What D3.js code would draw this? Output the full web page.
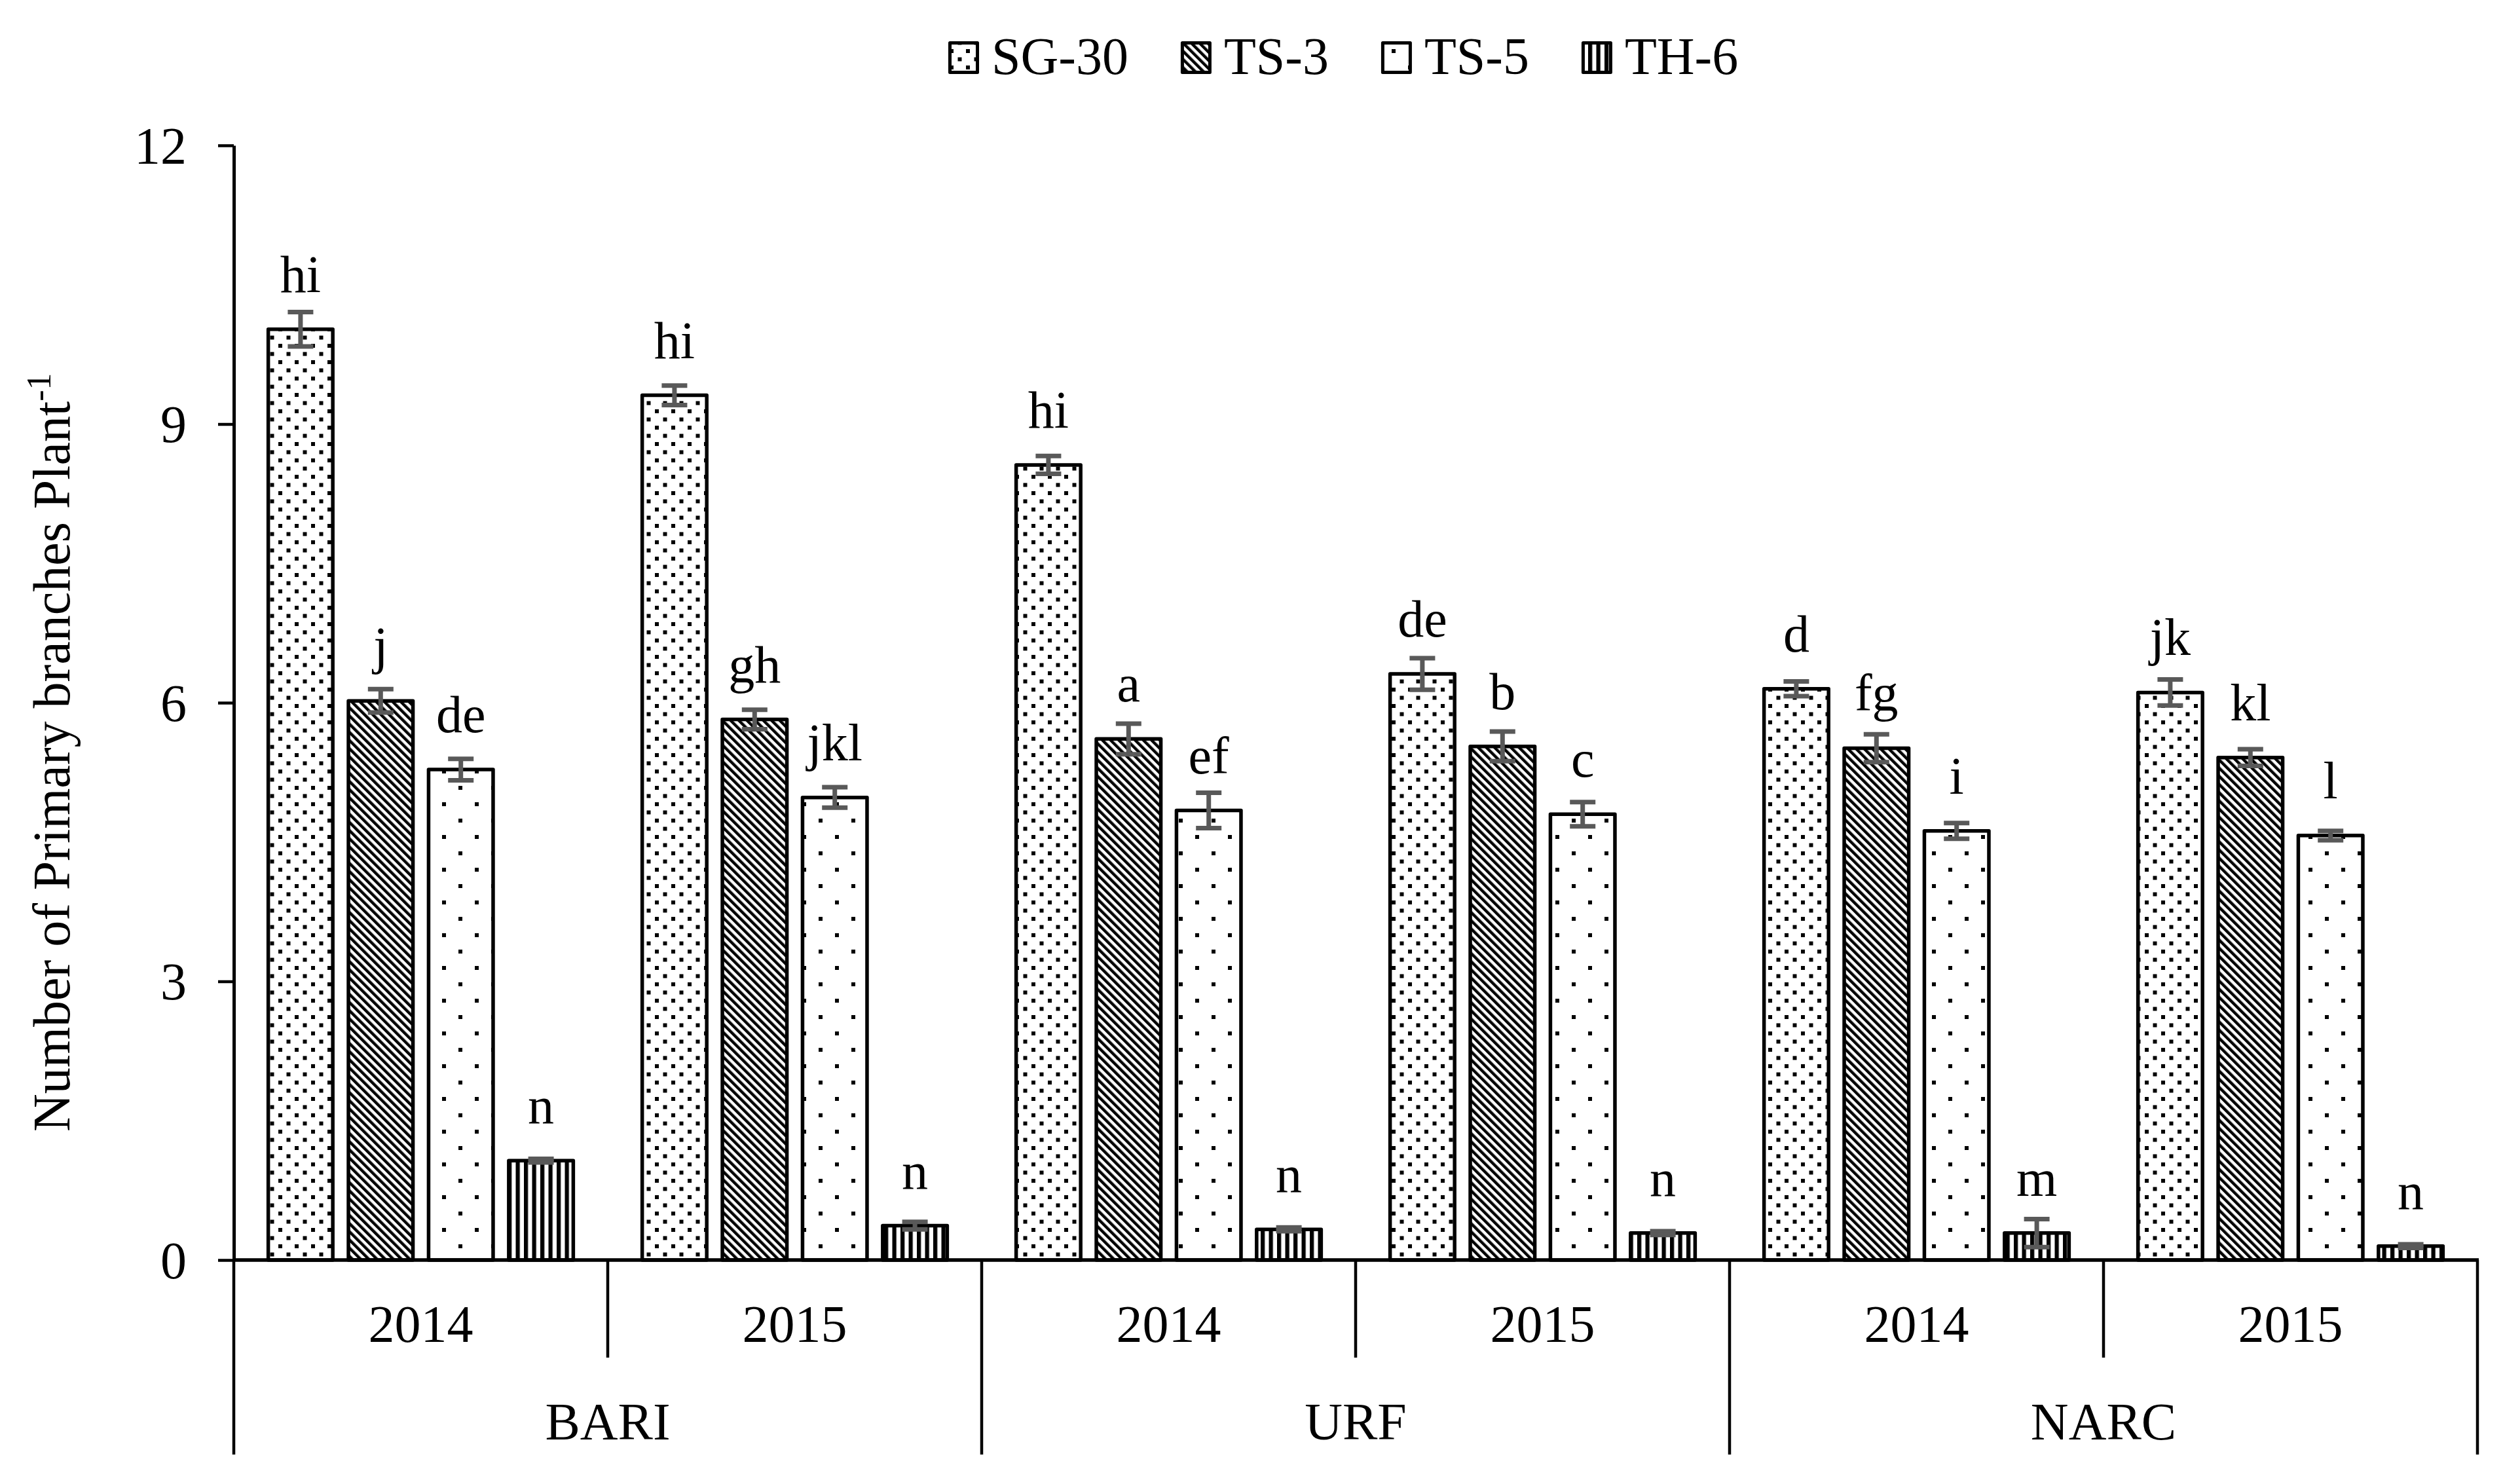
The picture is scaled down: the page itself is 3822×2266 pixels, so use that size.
<!DOCTYPE html>
<html>
<head>
<meta charset="utf-8">
<script src="https://cdn.jsdelivr.net/npm/d3@7"></script>
<style>
  html, body { margin: 0; padding: 0; background: #ffffff; }
  svg { display: block; }
  text { font-family: 'Liberation Serif', 'Times New Roman', serif; fill: #000; }
</style>
</head>
<body>
<svg id="chart" width="3822" height="2266"></svg>
<script>
// ---------- data ----------
const sites = ["BARI", "URF", "NARC"];
const years = ["2014", "2015"];
const seriesNames = ["SG-30", "TS-3", "TS-5", "TH-6"];

const sg30 = [10.02, 9.31, 8.56, 6.31, 6.15, 6.11];
const ts3  = [6.02, 5.82, 5.61, 5.53, 5.51, 5.41];
const ts5  = [5.28, 4.98, 4.84, 4.80, 4.62, 4.57];
const th6  = [1.07, 0.37, 0.33, 0.29, 0.29, 0.15];

const sg30Err = [0.185, 0.105, 0.096, 0.17, 0.08, 0.14];
const ts3Err  = [0.126, 0.105, 0.165, 0.16, 0.15, 0.09];
const ts5Err  = [0.116, 0.11, 0.19, 0.13, 0.085, 0.05];
const th6Err  = [0.02, 0.04, 0.02, 0.02, 0.15, 0.02];

const sg30Letters = ["hi", "hi", "hi", "de", "d", "jk"];
const ts3Letters  = ["j", "gh", "a", "b", "fg", "kl"];
const ts5Letters  = ["de", "jkl", "ef", "c", "i", "l"];
const th6Letters  = ["n", "n", "n", "n", "m", "n"];

const yTicks = [0, 3, 6, 9, 12];
const yTitle = "Number of Primary branches Plant";
const yTitleSup = "-1";

// ---------- build ----------
(function () {
const values = [sg30, ts3, ts5, th6];
const errors = [sg30Err, ts3Err, ts5Err, th6Err];
const letters = [sg30Letters, ts3Letters, ts5Letters, th6Letters];
const patternIds = ["pSG30", "pTS3", "pTS5", "pTH6"];

const groups = sites.flatMap(s => years.map(yr => s + "|" + yr));
const records = [];
seriesNames.forEach((name, k) => {
  groups.forEach((g, i) => {
    records.push({ series: name, k, group: g, value: values[k][i], err: errors[k][i], letter: letters[k][i] });
  });
});

const svg = d3.select("#chart");
const FONT = 80;

const plotLeft = 357, plotRight = 3783, plotTop = 222, plotBase = 1924;

const x0 = d3.scaleBand().domain(groups).range([plotLeft, plotRight]).padding(0);
const x1 = d3.scaleBand().domain(seriesNames).range([0, x0.bandwidth()]).paddingInner(0.195).paddingOuter(0.43);
const xSite = d3.scaleBand().domain(sites).range([plotLeft, plotRight]).padding(0);
const y = d3.scaleLinear().domain([0, 12]).range([plotBase, plotTop]);

// ---------- patterns ----------
const defs = svg.append("defs");
{
  const p = defs.append("pattern").attr("id", "pSG30").attr("patternUnits", "userSpaceOnUse")
    .attr("width", 25).attr("height", 25);
  p.append("rect").attr("width", 25).attr("height", 25).attr("fill", "#fff");
  p.append("rect").attr("x", 0).attr("y", 0).attr("width", 6).attr("height", 6).attr("fill", "#000");
  p.append("rect").attr("x", 12.5).attr("y", 12.5).attr("width", 6).attr("height", 6).attr("fill", "#000");
}
{
  const w = 8.84;
  const p = defs.append("pattern").attr("id", "pTS3").attr("patternUnits", "userSpaceOnUse")
    .attr("width", w).attr("height", w).attr("patternTransform", "rotate(-45)");
  p.append("rect").attr("width", w).attr("height", w).attr("fill", "#fff");
  p.append("rect").attr("width", w / 2).attr("height", w).attr("fill", "#000");
}
{
  const p = defs.append("pattern").attr("id", "pTS5").attr("patternUnits", "userSpaceOnUse")
    .attr("width", 50).attr("height", 50);
  p.append("rect").attr("width", 50).attr("height", 50).attr("fill", "#fff");
  p.append("rect").attr("x", 0).attr("y", 0).attr("width", 6).attr("height", 6).attr("fill", "#000");
  p.append("rect").attr("x", 25).attr("y", 25).attr("width", 6).attr("height", 6).attr("fill", "#000");
}
{
  const p = defs.append("pattern").attr("id", "pTH6").attr("patternUnits", "userSpaceOnUse")
    .attr("width", 12.5).attr("height", 12.5);
  p.append("rect").attr("width", 12.5).attr("height", 12.5).attr("fill", "#fff");
  p.append("rect").attr("width", 6.25).attr("height", 12.5).attr("fill", "#000");
}

// ---------- bars ----------
svg.append("g").selectAll("rect").data(records).join("rect")
  .attr("x", d => x0(d.group) + x1(d.series))
  .attr("y", d => y(d.value))
  .attr("width", x1.bandwidth())
  .attr("height", d => y(0) - y(d.value))
  .attr("fill", d => `url(#${patternIds[d.k]})`)
  .attr("stroke", "#000")
  .attr("stroke-width", 5.5)
  .attr("stroke-linejoin", "round");

// ---------- y axis ----------
const yAxis = d3.axisLeft(y).tickValues(yTicks).tickSize(24).tickSizeOuter(0).tickPadding(48)
  .tickFormat(d3.format("d"));
const yg = svg.append("g").attr("transform", `translate(${plotLeft},0)`).call(yAxis);
yg.select(".domain").attr("stroke", "#000").attr("stroke-width", 5);
yg.selectAll(".tick line").attr("stroke", "#000").attr("stroke-width", 4.5);
yg.selectAll(".tick text").attr("font-size", FONT).attr("font-family", "'Liberation Serif', 'Times New Roman', serif")
  .attr("fill", "#000").attr("dy", "0.34em");

// ---------- baseline & category axis ----------
const axG = svg.append("g").attr("stroke", "#000");
axG.append("line").attr("x1", plotLeft - 2).attr("x2", plotRight + 2).attr("y1", y(0)).attr("y2", y(0)).attr("stroke-width", 5.5);

const yearBottom = 2073, siteBottom = 2221;
sites.forEach(s => {
  const xm = x0(s + "|" + years[1]);
  axG.append("line").attr("x1", xm).attr("x2", xm).attr("y1", y(0)).attr("y2", yearBottom).attr("stroke-width", 4.5);
});
const siteEdges = sites.map(s => xSite(s)).concat([xSite.range()[1]]);
siteEdges.forEach(xe => {
  axG.append("line").attr("x1", xe).attr("x2", xe).attr("y1", y(0)).attr("y2", siteBottom).attr("stroke-width", 4.5);
});

svg.append("g").selectAll("text").data(groups).join("text")
  .attr("x", g => x0(g) + x0.bandwidth() / 2)
  .attr("y", 2049)
  .attr("text-anchor", "middle")
  .attr("font-size", FONT)
  .text(g => g.split("|")[1]);

svg.append("g").selectAll("text").data(sites).join("text")
  .attr("x", s => xSite(s) + xSite.bandwidth() / 2)
  .attr("y", 2198)
  .attr("text-anchor", "middle")
  .attr("font-size", FONT)
  .text(s => s);

// ---------- error bars ----------
const capW = 39;
const errG = svg.append("g").attr("stroke", "#595959").attr("stroke-width", 7).attr("fill", "none");
records.forEach(d => {
  const cx = x0(d.group) + x1(d.series) + x1.bandwidth() / 2;
  const yTop = y(d.value + d.err), yBot = y(d.value - d.err);
  errG.append("line").attr("x1", cx).attr("x2", cx).attr("y1", yTop).attr("y2", yBot);
  errG.append("line").attr("x1", cx - capW / 2).attr("x2", cx + capW / 2).attr("y1", yTop).attr("y2", yTop);
  errG.append("line").attr("x1", cx - capW / 2).attr("x2", cx + capW / 2).attr("y1", yBot).attr("y2", yBot);
});

// ---------- letters ----------
svg.append("g").selectAll("text").data(records).join("text")
  .attr("x", d => x0(d.group) + x1(d.series) + x1.bandwidth() / 2)
  .attr("y", d => y(d.value) - 57)
  .attr("text-anchor", "middle")
  .attr("font-size", FONT)
  .text(d => d.letter);

// ---------- y title ----------
const yt = svg.append("text")
  .attr("transform", "translate(106,1728) rotate(-90)")
  .attr("text-anchor", "start")
  .attr("font-size", FONT);
yt.append("tspan").text(yTitle);
yt.append("tspan").attr("font-size", FONT * 0.65).attr("dy", -FONT * 0.36).text(yTitleSup);

// ---------- legend ----------
const legG = svg.append("g");
let lx = 1448;
seriesNames.forEach((name, k) => {
  legG.append("rect")
    .attr("x", lx + 2.5).attr("y", 65.5).attr("width", 42).attr("height", 45)
    .attr("fill", `url(#${patternIds[k]})`)
    .attr("stroke", "#000").attr("stroke-width", 5).attr("stroke-linejoin", "round");
  const t = legG.append("text").attr("x", lx + 66).attr("y", 113).attr("font-size", FONT).text(name);
  const w = t.node().getComputedTextLength();
  lx = lx + 66 + w + 80;
});
})();
</script>
</body>
</html>
